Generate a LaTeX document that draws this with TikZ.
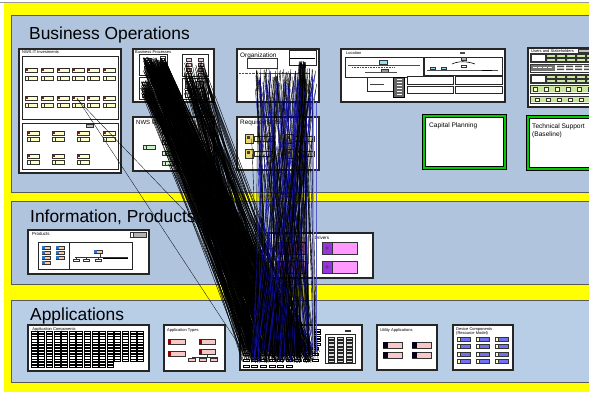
\documentclass[tikz,border=0pt]{standalone}
\usepackage{fontspec}
\setmainfont{Liberation Sans}
\definecolor{bandblue}{HTML}{B0C4DE}
\definecolor{bandblueB}{HTML}{B8CDE6}
\definecolor{lane}{HTML}{FFFF00}
\definecolor{itemyel}{HTML}{FFFFC8}
\definecolor{invred}{HTML}{8B1A1A}
\definecolor{goalgrn}{HTML}{C8F5C8}
\definecolor{prodorg}{HTML}{F8C8A0}
\definecolor{prodblu}{HTML}{3070C0}
\definecolor{apppink}{HTML}{F8C8C8}
\definecolor{drvpink}{HTML}{FF99FF}
\definecolor{drvpurp}{HTML}{9933DD}
\definecolor{devblue}{HTML}{7070F0}
\definecolor{linkblue}{HTML}{1010B0}
\definecolor{capgreen}{HTML}{00CC00}
\definecolor{reqyel}{HTML}{E8D870}
\definecolor{usrgrn}{HTML}{C8E8A0}

\tikzset{
  band/.style={draw=black!65, line width=0.9pt},
  panel/.style={draw=black!85, line width=1.1pt, fill=white},
  subpanel/.style={draw=black!85, line width=0.8pt, fill=white},
  bandtitle/.style={font=\fontsize{17.4}{20}\selectfont, anchor=base west, inner sep=0pt},
  tinylabel/.style={font=\fontsize{4}{4.5}\selectfont, anchor=north west, inner sep=0pt},
  boxlabel/.style={font=\fontsize{6.6}{7.8}\selectfont, anchor=north west, inner sep=0pt, align=left},
  itemframe/.style={draw=black!80, line width=0.4pt},
  link/.style={draw=black, line width=0.4pt},
  bluelink/.style={draw=linkblue, line width=0.4pt},
  greenframe/.style={draw=capgreen, line width=2pt},
}

% investment item with a marker square
\newcommand{\invA}[2]{%
  \draw[itemframe, fill=itemyel] (#1,#2) rectangle ++(12,4);
  \fill[invred] (#1+0.6,#2+0.6) rectangle ++(2.4,2.8);
  \draw[black!85, line width=0.6pt] (#1+3,#2+0.4) -- ++(8.6,0);}
% investment item with a divider
\newcommand{\invB}[2]{%
  \draw[itemframe, fill=itemyel] (#1,#2) rectangle ++(12,4);
  \draw[itemframe] (#1+3,#2) -- ++(0,4);}
% goal item
\newcommand{\goalItem}[2]{%
  \draw[itemframe, fill=goalgrn] (#1,#2) rectangle ++(12,4.5);
  \draw[itemframe] (#1+3,#2) -- ++(0,4.5);}
% product item
\newcommand{\prodItem}[2]{%
  \draw[itemframe, fill=prodorg] (#1,#2) rectangle ++(8,3);
  \fill[prodblu] (#1+0.3,#2+0.3) rectangle ++(2.2,2.4);}
% application type item
\newcommand{\typeItem}[3]{%
  \draw[itemframe, fill=apppink] (#1,#2) rectangle ++(#3,5);
  \fill[red!60!black] (#1+0.4,#2+0.4) rectangle ++(2.2,4.2);}
% utility item
\newcommand{\utilItem}[2]{%
  \draw[itemframe, fill=apppink] (#1,#2) rectangle ++(19,6);
  \fill[black!90!blue] (#1+0.3,#2+0.3) rectangle ++(5,5.4);}
% device item
\newcommand{\devItem}[2]{%
  \draw[itemframe, fill=devblue] (#1,#2) rectangle ++(13,4.5);
  \draw[itemframe, fill=itemyel] (#1,#2) rectangle ++(3,4.5);}
% driver item
\newcommand{\drvItem}[3]{%
  \draw[black!80, line width=0.5pt, fill=drvpink] (#1,#2) rectangle ++(#3,12);
  \draw[black!80, line width=0.5pt, fill=drvpurp] (#1,#2) rectangle ++(10,12);
  \draw[black!80, line width=0.4pt] (#1+5,#2+6) circle (1.4);}
% small grid cell
\newcommand{\cell}[2]{\draw[black, line width=0.45pt, fill=white] (#1,#2) rectangle ++(6,2.2);}

\begin{document}
\begin{tikzpicture}[x=1pt,y=-1pt]
\useasboundingbox (0,0) rectangle (589,392);
% page ground and lanes
\fill[white] (0,0) rectangle (589,392);
\fill[lane] (4,3) rectangle (589,392);
\draw[black!40, line width=0.8pt] (0,2.5) -- (589,2.5);

\draw[band, fill=bandblue] (11,15) rectangle (600,192);
\draw[band, fill=bandblue] (11,201) rectangle (600,284);
\draw[band, fill=bandblueB] (11,300) rectangle (600,382);
\node[bandtitle] (tBO) at (29,39) {Business Operations};
\node[bandtitle] (tIP) at (30,222) {Information, Products,};
\node[bandtitle] (tAP) at (30,320) {Applications};

% ---------------- NWS IT Investments
\draw[panel] (19,49) rectangle (121,173);
\node[tinylabel] (lIT) at (22,50.5) {NWS IT Investments};
\draw[subpanel] (22,56) rectangle (118,119);
\draw[subpanel] (22,123) rectangle (118,169);
\foreach \x in {25,41,57,72,87,103}{\invA{\x}{68}\invB{\x}{76}\invA{\x}{96}\invB{\x}{103.5}}
\draw[itemframe, fill=black!25] (86,124.5) rectangle (93,127.5);
\foreach \x in {27,52,77,103}{\invA{\x}{131}\invB{\x}{137.5}}
\foreach \x in {27,52,77}{\invA{\x}{154}\invB{\x}{160.5}}

% ---------------- Business Processes
\draw[panel] (133,49) rectangle (214,102);
\node[tinylabel] (lBP) at (135,50.5) {Business Processes};
\draw[subpanel] (139,54) rectangle (167,75);
\draw[subpanel] (139,77) rectangle (157,99);
\draw[subpanel] (182,54) rectangle (208,76);
\draw[subpanel] (182,78) rectangle (208,99);
\draw[itemframe, fill=white] (160,56) rectangle (165,68);
\foreach \y in {58,60,62,64,66}{\draw[black!80, line width=0.3pt] (160,\y) -- (165,\y);}
\foreach \y in {58,62,66}{\draw[itemframe, fill=apppink] (144,\y) rectangle ++(7,2.5);}
\foreach \y in {82,88,94}{\draw[itemframe, fill=apppink] (142,\y) rectangle ++(6,3);}
\foreach \y in {58,63,68,73}{\draw[itemframe, fill=apppink] (186,\y) rectangle ++(5,3);
  \draw[itemframe, fill=apppink] (198,\y) rectangle ++(5,3);}
\draw[black!85, line width=0.7pt] (185,81) rectangle (192,88) (196,81) rectangle (203,88) (185,90) rectangle (191,97);

% ---------------- NWS Goals
\draw[panel] (133,117) rectangle (214,171);
\node[boxlabel, font=\fontsize{6}{7}\selectfont] (lNG) at (136,120) {NWS Goals};
\goalItem{143}{145}
\foreach \y in {130,140,151,161}{\goalItem{162}{\y}}
\foreach \y in {135,150}{\goalItem{185}{\y}}

% ---------------- Organization
\draw[panel] (237,49) rectangle (319,102);
\node[boxlabel, font=\fontsize{6.4}{7.5}\selectfont] (lOR) at (240,52.5) {Organization};
\draw[itemframe, line width=0.7pt] (247,58) rectangle (277,68);
\draw[subpanel] (289,50) rectangle (316,65);
\draw[black, line width=0.5pt] (290,58) -- (315,58);
\draw[black!70, line width=0.5pt, dash pattern=on 0.8pt off 0.6pt] (239,73) -- (262,73);
\draw[black!70, line width=0.4pt] (262,73) -- (310,73) (270,73) -- (270,80) (290,73) -- (290,80);

% ---------------- Requirements
\draw[panel] (237,117) rectangle (319,170);
\node[boxlabel, font=\fontsize{6.4}{7.5}\selectfont] (lRQ) at (240,120) {Requirements};
\foreach \x in {245,285}{\foreach \y in {134,149}{
  \draw[itemframe, fill=reqyel] (\x,\y) rectangle ++(8,9);
  \fill[black!75] (\x+2,\y+1.5) rectangle ++(3,3);
  \draw[itemframe, fill=itemyel] (\x+9,\y+2) rectangle ++(20,5);}}

% ---------------- Location
\draw[panel] (341,49) rectangle (505,102);
\node[tinylabel] (lLC) at (346,51) {Location};
\fill[black!70] (460,51.5) rectangle ++(5,2);
\draw[subpanel] (345,57) rectangle (423,77);
\draw[subpanel] (424,57) rectangle (502,75);
\draw[itemframe, fill=cyan!40] (379,60.5) rectangle ++(8,3.5);
\draw[black!70, line width=0.4pt] (348,65) -- (420,65);
\draw[black!70, line width=0.6pt, dash pattern=on 1pt off 0.6pt] (352,67.5) -- (395,67.5);
\draw[itemframe, fill=black!40] (381,69.5) rectangle ++(7,2.5);
\draw[black!70, line width=0.5pt] (365,72.5) -- (397,72.5);
\draw[itemframe, fill=black!30] (461,57.5) rectangle ++(5,2.5);
\draw[black, line width=0.6pt] (452,64) .. controls (458,61) and (467,61) .. (475,64);
\draw[itemframe, fill=white] (461,65) rectangle ++(5,2.5);
\draw[black!70, line width=0.4pt] (427,70) -- (498,70);
\draw[itemframe, fill=cyan!40] (430,67) rectangle ++(5,2.5) (441,67) rectangle ++(5,2.5);
\draw[black, line width=0.8pt] (482,70) -- (492,70);
\draw[subpanel] (367,77) rectangle (393,91);
\draw[black!75, line width=0.8pt] (370,84) -- (384,84);
\draw[black, line width=0.6pt, fill=black!60] (393,77) rectangle (404,97);
\foreach \y in {79,82,85,88,91,94}{\fill[white] (397,\y) rectangle ++(5,1.2);}
\draw[subpanel] (407,76) rectangle (453,84) (407,86) rectangle (453,93);
\draw[subpanel] (455,76) rectangle (502,84) (455,86) rectangle (502,93);

% ---------------- Users and Stakeholders
\draw[panel] (528,48) rectangle (600,107);
\node[tinylabel] (lUS) at (531,49.3) {Users and Stakeholders};
\draw[itemframe, fill=black!25] (578,49) rectangle ++(11,3);
\foreach \y/\h in {53/9,64/8,74/9,85/8,96/7}{\draw[black!80, line width=0.6pt] (530,\y) rectangle (600,\y+\h);}
\draw[itemframe, fill=white] (531,54) rectangle (545,61.5);
\draw[itemframe, fill=white] (531,75) rectangle (545,82);
\foreach \x in {546,556,566,576,586}{
  \draw[itemframe, fill=usrgrn] (\x,54) rectangle ++(9,3.5);
  \draw[itemframe, fill=usrgrn] (\x,58) rectangle ++(9,3.5);
  \draw[itemframe, fill=usrgrn] (\x,75) rectangle ++(9,3.2);
  \draw[itemframe, fill=usrgrn] (\x,78.8) rectangle ++(9,3.2);
  \fill[black!80] (\x,54) rectangle ++(1,7.5) (\x,75) rectangle ++(1,7);}
\fill[black!55] (531,65) rectangle (555,71);
\foreach \x in {533,538,543,548}{\fill[white] (\x,67) rectangle ++(3.5,1.2);}
\foreach \x in {557,566,575,584}{\fill[black!70] (\x,65.5) rectangle ++(7,1.5) (\x,68.5) rectangle ++(7,1.5);}
\fill[usrgrn] (531,86) rectangle (600,92) (531,97) rectangle (600,102);
\foreach \x in {533,544,555,566,577,588}{
  \draw[itemframe, fill=itemyel] (\x,87) rectangle ++(4,4);
  \draw[itemframe, fill=itemyel] (\x+2,98) rectangle ++(4,3.5);}

% ---------------- Capital Planning and Technical Support
\draw[black, line width=3.4pt, fill=white] (424,116) rectangle (505,168);
\draw[greenframe] (424,116) rectangle (505,168);
\node[boxlabel] (lCP) at (429,122.5) {Capital Planning};
\draw[black, line width=3.4pt, fill=white] (528,117) rectangle (600,169);
\draw[greenframe] (528,117) rectangle (600,169);
\node[boxlabel] (lTS) at (532,123.5) {Technical Support\\(Baseline)};

% ---------------- Products
\draw[panel] (28,230) rectangle (149,274);
\node[tinylabel, font=\fontsize{4.4}{5}\selectfont] (lPR) at (32,232.5) {Products};
\draw[itemframe, fill=black!30] (130,232) rectangle (146,237.5);
\draw[itemframe, fill=white] (130,232) rectangle (133,237.5);
\draw[subpanel] (38,242) rectangle (132,269);
\draw[black!85, line width=0.8pt] (69,242) -- (69,269);
\foreach \y in {246,251,256}{\prodItem{42}{\y}\prodItem{56}{\y}}
\prodItem{42}{261}
\prodItem{94}{250}
\draw[black!80, line width=0.4pt] (100,253) -- (100,257) (75,257) -- (128,257);
\foreach \x in {76,86,98}{\draw[black!80, line width=0.4pt] (\x,257) -- (\x,259);
  \draw[itemframe, fill=white] (\x-3,259) rectangle ++(6,2);}
\draw[black, line width=1pt] (103,258.5) -- (128,258.5);

% ---------------- Drivers
\draw[panel] (268,233) rectangle (373,278);
\node[tinylabel, font=\fontsize{4.6}{5}\selectfont] (lDR) at (314.5,236) {Drivers};
\drvItem{276}{242}{29}
\drvItem{276}{261}{29}
\drvItem{322}{242}{35}
\drvItem{322}{261}{35}

% ---------------- Application Components
\draw[panel] (28,325) rectangle (149,371);
\foreach \c in {0,...,14}{\foreach \r in {0,...,12}{
  \pgfmathsetmacro\cx{31+7.6*\c}\pgfmathsetmacro\cy{331+2.85*\r}
  \ifnum\c>10 \ifnum\r>10 \else \cell{\cx}{\cy}\fi\else \cell{\cx}{\cy}\fi}}
\node[tinylabel, fill=white, inner sep=0.2pt] (lAC) at (32,326.8) {Application Components};

% ---------------- Application Types
\draw[panel] (164,325) rectangle (225,371);
\node[tinylabel] (lAT) at (167,328) {Application Types};
\typeItem{168}{339}{17}
\typeItem{199}{339}{16}
\typeItem{168}{351}{17}
\typeItem{199}{349}{16}
\draw[black!80, line width=0.4pt] (207,354) -- (207,357) (192,357) -- (218,357);
\foreach \x in {192,203,214}{\draw[black!80, line width=0.4pt] (\x,357) -- (\x,358.5);
  \draw[itemframe, fill=apppink] (\x-3.5,358.5) rectangle ++(7,3);}

% ---------------- Application box
\draw[panel] (240,325) rectangle (362,370);
\fill[black!80] (345,330) rectangle ++(6,2);
\draw[subpanel] (325,334) rectangle (355,363);
\foreach \c in {0,1,2}{\foreach \r in {0,...,7}{
  \pgfmathsetmacro\cx{328+9*\c}\pgfmathsetmacro\cy{337+3.3*\r}
  \draw[black!85, line width=0.35pt, fill=black!15] (\cx,\cy) rectangle ++(6,2.2);}}
\foreach \c in {0,...,8}{\foreach \r in {0,1,2}{
  \pgfmathsetmacro\cx{243+8.6*\c}\pgfmathsetmacro\cy{347+6*\r}
  \cell{\cx}{\cy}}}
\foreach \c in {0,...,5}{\pgfmathsetmacro\cx{243+8.6*\c}\cell{\cx}{365}}
\foreach \r in {0,...,4}{\pgfmathsetmacro\cy{329+3.5*\r}\cell{314}{\cy}}

% ---------------- Utility Applications
\draw[panel] (377,325) rectangle (437,370);
\node[tinylabel] (lUA) at (380,328) {Utility Applications};
\utilItem{383}{342}\utilItem{412}{342}
\utilItem{383}{352}\utilItem{412}{352}

% ---------------- Device Components
\draw[panel] (453,325) rectangle (513,370);
\node[tinylabel, align=left] (lDC) at (456,327.5) {Device Components\\[-0.6pt](Resource Model)};
\foreach \x in {457,476,495}{\foreach \y in {337,344,352,359}{\devItem{\x}{\y}}}

% ---------------- dependency links
\pgfmathsetseed{4711}
% investment links
\coordinate (invS1) at (77,98);
\coordinate (invT1) at (241,348);
\coordinate (invS2) at (77,99);
\coordinate (invT2) at (320,352);
\draw[link, line width=0.3pt] (invS1) -- (invT1);
\draw[link, line width=0.3pt] (invS2) -- (invT2);
% process links
\foreach \i in {1,...,230}{
  \pgfmathsetmacro\sx{143+23*rnd}\pgfmathsetmacro\sy{57+15*rnd}
  \pgfmathsetmacro\tx{242+72*rnd}\pgfmathsetmacro\ty{346+17*rnd}
  \coordinate (pS\i) at (\sx,\sy);\coordinate (pT\i) at (\tx,\ty);
  \draw[link] (pS\i) -- (pT\i);}
\foreach \i in {1,...,70}{
  \pgfmathsetmacro\sx{140+12*rnd}\pgfmathsetmacro\sy{80+17*rnd}
  \pgfmathsetmacro\tx{242+60*rnd}\pgfmathsetmacro\ty{346+17*rnd}
  \coordinate (qS\i) at (\sx,\sy);\coordinate (qT\i) at (\tx,\ty);
  \draw[link] (qS\i) -- (qT\i);}
\foreach \i in {1,...,110}{
  \pgfmathsetmacro\sx{184+22*rnd}\pgfmathsetmacro\sy{60+34*rnd}
  \pgfmathsetmacro\tx{250+66*rnd}\pgfmathsetmacro\ty{346+17*rnd}
  \coordinate (rS\i) at (\sx,\sy);\coordinate (rT\i) at (\tx,\ty);
  \draw[link] (rS\i) -- (rT\i);}
% goal links
\foreach \i in {1,...,60}{
  \pgfmathsetmacro\sx{165+30*rnd}\pgfmathsetmacro\sy{130+35*rnd}
  \pgfmathsetmacro\tx{244+70*rnd}\pgfmathsetmacro\ty{346+17*rnd}
  \coordinate (gS\i) at (\sx,\sy);\coordinate (gT\i) at (\tx,\ty);
  \draw[link] (gS\i) -- (gT\i);}
% organization links
\foreach \i in {1,...,95}{
  \pgfmathsetmacro\sx{254+63*rnd}\pgfmathsetmacro\sy{68+16*rnd}
  \pgfmathsetmacro\tx{248+70*rnd}\pgfmathsetmacro\ty{346+17*rnd}
  \coordinate (oS\i) at (\sx,\sy);\coordinate (oT\i) at (\tx,\ty);
  \draw[link] (oS\i) -- (oT\i);}
\foreach \i in {1,...,35}{
  \pgfmathsetmacro\sx{299+7*rnd}\pgfmathsetmacro\sy{61+4*rnd}
  \pgfmathsetmacro\tx{270+48*rnd}\pgfmathsetmacro\ty{346+17*rnd}
  \coordinate (uS\i) at (\sx,\sy);\coordinate (uT\i) at (\tx,\ty);
  \draw[link] (uS\i) -- (uT\i);}
\foreach \i in {1,...,40}{
  \pgfmathsetmacro\sx{254+62*rnd}\pgfmathsetmacro\sy{70+30*rnd}
  \pgfmathsetmacro\tx{250+68*rnd}\pgfmathsetmacro\ty{346+17*rnd}
  \coordinate (bS\i) at (\sx,\sy);\coordinate (bT\i) at (\tx,\ty);
  \draw[bluelink] (bS\i) -- (bT\i);}
% requirement links
\foreach \i in {1,...,30}{
  \pgfmathsetmacro\sx{250+64*rnd}\pgfmathsetmacro\sy{130+30*rnd}
  \pgfmathsetmacro\tx{250+68*rnd}\pgfmathsetmacro\ty{346+17*rnd}
  \coordinate (kS\i) at (\sx,\sy);\coordinate (kT\i) at (\tx,\ty);
  \draw[link] (kS\i) -- (kT\i);}
% long vertical links
\coordinate (vS1) at (313,100);\coordinate (vT1) at (313,352);
\coordinate (vS2) at (316,102);\coordinate (vT2) at (316,352);
\draw[linkblue!45, line width=0.8pt] (vS1) -- (vT1);
\draw[linkblue!70, line width=0.4pt] (vS2) -- (vT2);
\end{tikzpicture}
\end{document}
